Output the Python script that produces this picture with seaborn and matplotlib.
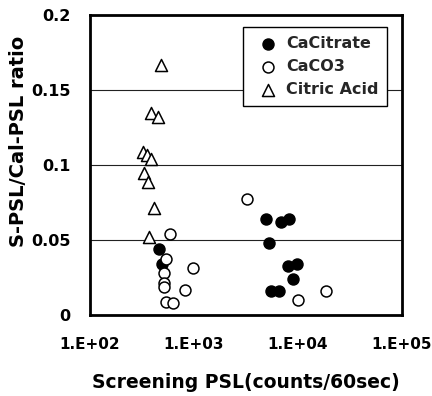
import numpy as np
import pandas as pd
import matplotlib
matplotlib.use("Agg")
import matplotlib.pyplot as plt
from matplotlib.ticker import FixedLocator, FuncFormatter, NullLocator
import seaborn as sns

# ------------------------------------------------------------
# Données
# ------------------------------------------------------------
citrate_x = [461, 489, 4886, 6810, 8180, 5260, 8070, 9860, 8890, 5460, 6610]
citrate_y = [0.0438, 0.0338, 0.064, 0.0622, 0.064, 0.0482, 0.0329, 0.034, 0.0238, 0.016, 0.016]

caco3_x = [587, 538, 515, 515, 515, 970, 819, 538, 632, 3213, 10070, 18580]
caco3_y = [0.054, 0.0371, 0.0278, 0.0211, 0.0184, 0.0311, 0.0167, 0.0089, 0.0078, 0.0773, 0.010, 0.016]

acid_x = [482, 386, 448, 326, 351, 386, 333, 364, 416, 372]
acid_y = [0.167, 0.1345, 0.1318, 0.1089, 0.1067, 0.1038, 0.0944, 0.0885, 0.0716, 0.0522]

y_ticks = [0, 0.05, 0.1, 0.15, 0.2]
y_tick_labels = ["0", "0.05", "0.1", "0.15", "0.2"]
x_ticks = [1e2, 1e3, 1e4, 1e5]

df = pd.concat([
    pd.DataFrame({"psl": citrate_x, "ratio": citrate_y, "groupe": "CaCitrate"}),
    pd.DataFrame({"psl": caco3_x, "ratio": caco3_y, "groupe": "CaCO3"}),
    pd.DataFrame({"psl": acid_x, "ratio": acid_y, "groupe": "Citric Acid"}),
], ignore_index=True)

sns.set_style("white")
plt.rcParams["font.family"] = ["DejaVu Sans"]
plt.rcParams["font.weight"] = "bold"

fig = plt.figure(figsize=(4.32, 3.96), dpi=100)
ax = fig.add_axes([0.2083, 0.2045, 0.7223, 0.7575])

styles = {
    "CaCitrate": dict(marker="o", facecolor="black", s=62),
    "CaCO3": dict(marker="o", facecolor="white", s=62),
    "Citric Acid": dict(marker="^", facecolor="white", s=75),
}
for name, st in styles.items():
    sub = df[df["groupe"] == name]
    sns.scatterplot(data=sub, x="psl", y="ratio", ax=ax, label=name,
                    marker=st["marker"], s=st["s"], facecolor=st["facecolor"],
                    edgecolor="black", linewidth=1.1, zorder=3)

ax.set_xscale("log")
ax.set_xlim(1e2, 1e5)
ax.set_ylim(0, 0.2)
ax.xaxis.set_major_locator(FixedLocator(x_ticks))
ax.xaxis.set_minor_locator(NullLocator())
ax.xaxis.set_major_formatter(FuncFormatter(lambda v, p: f"1.E+{int(round(np.log10(v))):02d}"))
ax.set_yticks(y_ticks)
ax.set_yticklabels(y_tick_labels)

ax.yaxis.grid(True, color="#222222", linewidth=0.8)
ax.xaxis.grid(False)
ax.set_axisbelow(True)

for sp in ax.spines.values():
    sp.set_visible(True)
    sp.set_color("black")
    sp.set_linewidth(2)

ax.tick_params(axis="x", direction="in", length=5, width=1, pad=16, labelsize=11, colors="black")
ax.tick_params(axis="y", direction="in", length=5, width=1, pad=14, labelsize=11.5, colors="black")

ax.set_xlabel("Screening PSL(counts/60sec)", fontsize=13.5, fontweight="bold",
              labelpad=15, color="black")
ax.set_ylabel("S-PSL/Cal-PSL ratio", fontsize=14, fontweight="bold", color="black")
ax.yaxis.set_label_coords(-0.20, 0.58)

leg = ax.legend(loc="upper right", bbox_to_anchor=(0.952, 0.96), borderaxespad=0,
                frameon=True, fancybox=False, framealpha=1, edgecolor="black",
                fontsize=11.5, handletextpad=0.1, labelspacing=0.5,
                handlelength=2.0, borderpad=0.55)
leg.get_frame().set_linewidth(1)

fig.savefig("out.png", dpi=100)
plt.close(fig)
